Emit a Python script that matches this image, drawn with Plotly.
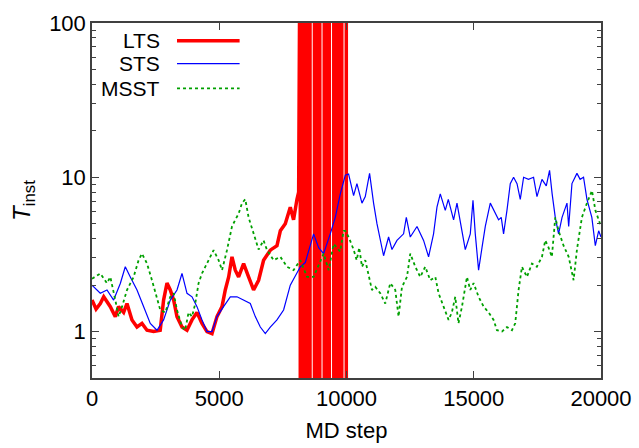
import plotly.graph_objects as go

# ---------------- data ----------------
lts_steps = [0, 160, 326, 460, 720, 916, 1045, 1243, 1375, 1571, 1768, 1964, 2161, 2420,
             2680, 2813, 2947, 3076, 3209, 3340, 3536, 3733, 3929, 4125, 4322, 4518, 4715,
             4911, 5108, 5237, 5370, 5500, 5630, 5760, 5957, 6153, 6349, 6546, 6742, 7005,
             7268, 7400, 7595, 7791, 7920, 8054, 8120]
lts_vals = [1.6, 1.4, 1.52, 1.68, 1.45, 1.25, 1.45, 1.33, 1.52, 1.19, 1.07, 1.13, 1.02, 1.0,
            1.02, 1.6, 2.06, 1.86, 1.6, 1.25, 1.07, 1.02, 1.19, 1.33, 1.13, 1.0, 0.97,
            1.25, 1.45, 1.86, 2.26, 3.05, 2.5, 2.26, 2.76, 2.26, 1.86, 2.15, 2.9, 3.37,
            3.6, 4.5, 5.0, 6.4, 5.3, 7.2, 8.0]
# LTS blows up: steps where the trace jumps between off-scale high and low values
lts_spike_steps = [8184, 8248, 8312, 8376, 8440, 8504, 8566,
                   8742, 8806, 8870, 8950,
                   9127, 9191, 9255, 9323,
                   9500, 9564, 9628, 9692, 9756, 9815,
                   9992]
lts_spike_hi = 1000.0
lts_spike_lo = 0.1

sts_steps = [0, 326, 589, 850, 1112, 1308, 1505, 1768, 2030, 2290, 2554, 2813, 3076, 3340,
             3536, 3733, 3930, 4125, 4322, 4518, 4715, 4911, 5170, 5434, 5697, 5960, 6220,
             6416, 6613, 6809, 7005, 7268, 7528, 7791, 7990, 8184, 8380, 8708, 8905, 9100,
             9362, 9560, 9756, 9953, 10083, 10279, 10410, 10607, 10738, 10907, 11064, 11197,
             11457, 11654, 11787, 11983, 12243, 12350, 12506, 12770, 13029, 13225, 13421,
             13555, 13685, 13881, 14000, 14208, 14341, 14537, 14667, 14864, 14970, 15060,
             15190, 15324, 15454, 15650, 15780, 15976, 16080, 16172, 16305, 16435, 16565,
             16700, 16828, 16959, 17150, 17350, 17484, 17680, 17850, 17979, 18080, 18203,
             18333, 18470, 18663, 18730, 18859, 19055, 19180, 19314, 19448, 19640, 19777,
             19908, 20000]
sts_vals = [2.0, 1.77, 1.86, 1.6, 2.05, 2.63, 2.26, 1.86, 1.45, 1.13, 1.02, 1.19, 1.6, 1.86,
            2.38, 1.77, 1.68, 1.45, 1.19, 1.0, 1.0, 1.25, 1.45, 1.68, 1.68, 1.6, 1.52,
            1.25, 1.07, 0.97, 1.07, 1.19, 1.38, 2.0, 2.3, 2.63, 2.8, 4.3, 3.5, 3.2,
            4.3, 5.5, 7.8, 10.3, 10.5, 7.6, 9.1, 6.8, 7.5, 10.6, 6.8, 5.0,
            3.1, 4.1, 3.4, 3.9, 4.3, 5.5, 4.1, 4.8, 3.9, 3.05, 4.3,
            6.4, 7.8, 6.1, 7.2, 5.3, 6.8, 4.5, 3.4, 4.3, 7.1, 4.3,
            2.5, 3.5, 4.8, 6.8, 6.1, 5.3, 5.5, 4.3, 6.1, 9.1, 10.0,
            9.1, 7.2, 10.0, 9.7, 10.0, 7.5, 9.7, 8.8, 11.1, 7.8, 5.5,
            4.3, 5.5, 6.8, 4.8, 9.1, 10.6, 9.7, 10.0, 7.2, 5.5, 3.6,
            4.5, 4.1]

msst_steps = [0, 326, 589, 720, 916, 1045, 1180, 1375, 1635, 1831, 1964, 2161, 2357, 2554,
              2683, 2880, 3076, 3209, 3340, 3536, 3660, 3795, 3930, 4058, 4188, 4322, 4518,
              4778, 4974, 5110, 5304, 5500, 5630, 5760, 5894, 6023, 6153, 6349, 6546, 6740,
              6870, 7135, 7400, 7661, 7920, 8184, 8450, 8708, 9100, 9300, 9493, 9750, 9886,
              9952, 10083, 10279, 10400, 10500, 10607, 10738, 10869, 11000, 11130, 11327,
              11523, 11720, 11917, 12046, 12180, 12376, 12506, 12703, 12899, 13095, 13292,
              13490, 13618, 13815, 14011, 14140, 14274, 14400, 14537, 14733, 14864, 14994,
              15190, 15390, 15583, 15780, 15911, 16109, 16305, 16502, 16630, 16762, 16894,
              17090, 17287, 17480, 17680, 17810, 17940, 18070, 18203, 18333, 18530, 18730,
              18923, 19055, 19250, 19448, 19645, 19780, 19910, 20000]
msst_vals = [2.2, 2.38, 2.06, 2.26, 1.6, 1.25, 1.45, 1.86, 2.26, 2.9, 3.2, 2.76, 2.15, 1.68,
             1.38, 1.33, 1.68, 1.77, 1.38, 1.07, 1.02, 1.33, 1.25, 1.52, 2.06, 2.38, 2.76,
             3.37, 2.9, 2.5, 3.37, 4.8, 5.3, 5.8, 6.8, 7.2, 5.5, 4.3, 3.4, 3.9,
             3.4, 2.9, 3.05, 2.63, 2.5, 2.9, 2.26, 2.26, 3.2, 2.5, 3.7, 3.3, 4.5,
             4.5, 4.1, 3.4, 2.9, 3.5, 2.63, 2.9, 2.26, 1.86, 1.95, 1.77,
             1.52, 2.06, 1.86, 1.25, 1.95, 2.26, 3.2, 2.63, 2.26, 2.63, 2.15,
             2.26, 1.77, 1.45, 1.19, 1.33, 1.68, 1.13, 1.45, 2.26, 1.86, 2.06,
             1.68, 1.45, 1.33, 1.19, 1.02, 1.0, 1.07, 1.02, 1.13, 1.86, 2.63,
             2.26, 2.76, 2.63, 3.05, 3.9, 3.5, 3.05, 5.5, 4.5, 3.6, 3.05,
             2.15, 3.4, 5.5, 6.8, 8.2, 6.1, 5.3, 4.8]

series_names = ["LTS", "STS", "MSST"]
x_tick_vals = [0, 5000, 10000, 15000, 20000]
y_tick_vals = [1, 10, 100]
y_minor_vals = [0.5, 0.6, 0.7, 0.8, 0.9, 2, 3, 4, 5, 6, 7, 8, 9, 20, 30, 40, 50, 60, 70, 80, 90]

# ---------------- build LTS trace incl. the blow-up region ----------------
lts_x = list(lts_steps)
lts_y = list(lts_vals)
for i, s in enumerate(lts_spike_steps):
    if i % 2 == 0:
        lts_x += [s, s]
        lts_y += [lts_spike_hi, lts_spike_lo]
    else:
        lts_x += [s, s]
        lts_y += [lts_spike_lo, lts_spike_hi]

RED = "#ff0000"
BLUE = "#0000ff"
GREEN = "#00a000"
FONT = "Liberation Sans, Arial, sans-serif"

fig = go.Figure()
fig.add_trace(go.Scatter(x=lts_x, y=lts_y, mode="lines", name=series_names[0],
                         line=dict(color=RED, width=3.5, simplify=False), showlegend=False))
fig.add_trace(go.Scatter(x=sts_steps, y=sts_vals, mode="lines", name=series_names[1],
                         line=dict(color=BLUE, width=1.2), showlegend=False))
fig.add_trace(go.Scatter(x=msst_steps, y=msst_vals, mode="lines", name=series_names[2],
                         line=dict(color=GREEN, width=1.8, dash="dot"), showlegend=False))

# ---------------- gnuplot-style key (text left of sample) ----------------
key_y = [0.950, 0.8856, 0.816]
key_styles = [dict(color=RED, width=3.5), dict(color=BLUE, width=1.2),
              dict(color=GREEN, width=1.8, dash="dot")]
for name, ky, st in zip(series_names, key_y, key_styles):
    fig.add_annotation(xref="paper", yref="paper", x=0.1375, y=ky, text=name,
                       showarrow=False, xanchor="right", yanchor="middle",
                       font=dict(family=FONT, size=21, color="black"))
    fig.add_shape(type="line", xref="paper", yref="paper", x0=0.167, x1=0.29,
                  y0=ky, y1=ky, line=st)

axis_common = dict(showline=True, linecolor="#404040", linewidth=1.5, mirror="allticks",
                   ticks="inside", tickcolor="#404040", tickwidth=1.2, ticklen=7,
                   showgrid=False, zeroline=False, automargin=False,
                   tickfont=dict(family=FONT, size=22, color="black"))

fig.update_xaxes(range=[0, 20000], tickmode="array", tickvals=x_tick_vals,
                 ticktext=[str(v) for v in x_tick_vals],
                 title=dict(text="MD step", font=dict(family=FONT, size=22, color="black"),
                            standoff=12),
                 **axis_common)
fig.update_yaxes(type="log", range=[-0.30103, 2], tickmode="array", tickvals=y_tick_vals,
                 ticktext=[str(v) for v in y_tick_vals],
                 minor=dict(tickmode="array", tickvals=y_minor_vals, ticks="inside",
                            ticklen=4, tickcolor="#404040", tickwidth=1.2, showgrid=False),
                 title=dict(text="<i>T</i><sub>inst</sub>",
                            font=dict(family=FONT, size=24, color="black"), standoff=12),
                 **axis_common)

fig.update_layout(width=639, height=448, autosize=False,
                  margin=dict(l=92, r=38, t=23, b=70),
                  paper_bgcolor="white", plot_bgcolor="white",
                  font=dict(family=FONT, color="black"))

fig.write_html("out.html")
